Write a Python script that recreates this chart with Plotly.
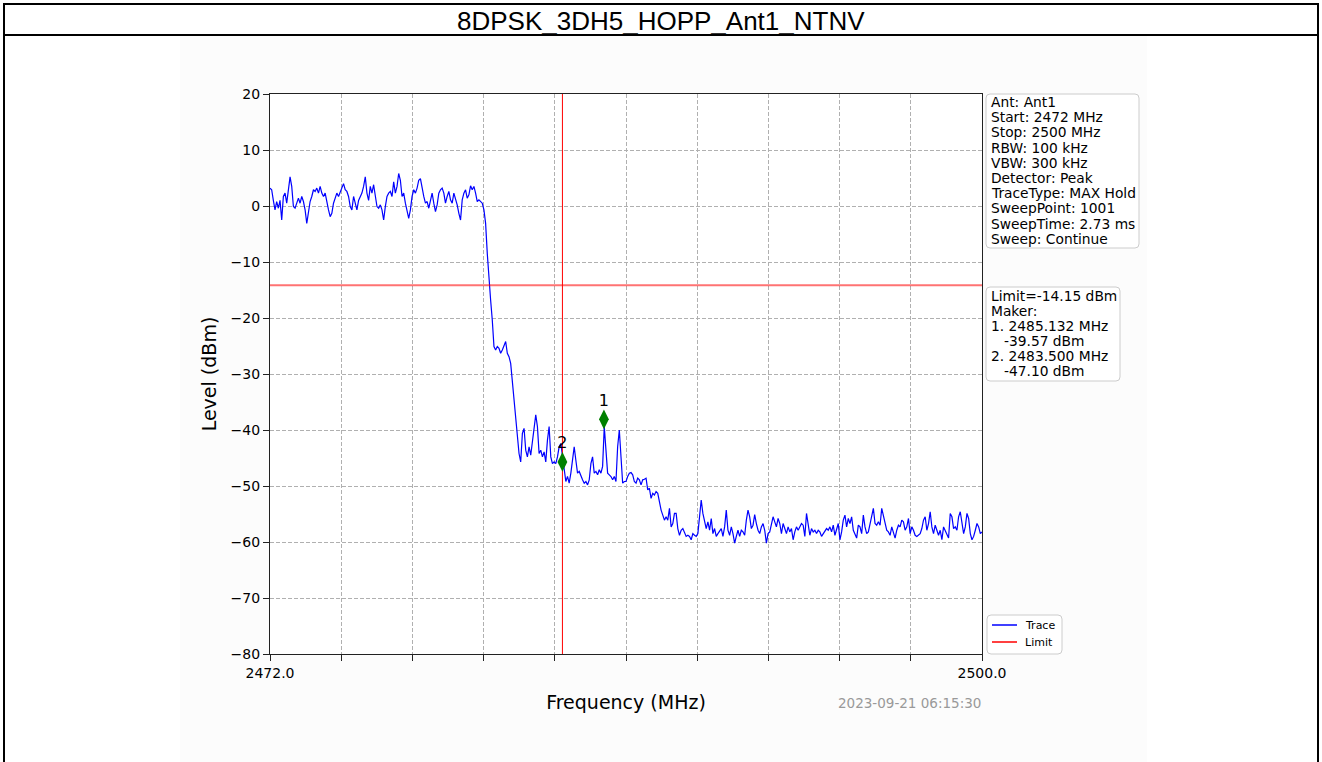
import numpy as np
import plotly.graph_objects as go

# ---------------- data ----------------
title_text = "8DPSK_3DH5_HOPP_Ant1_NTNV"
f_start, f_stop = 2472.0, 2500.0
x_tick_vals = list(np.linspace(f_start, f_stop, 11))
x_tick_labels = ["2472.0", "", "", "", "", "", "", "", "", "", "2500.0"]
y_tick_vals = [-80, -70, -60, -50, -40, -30, -20, -10, 0, 10, 20]
y_tick_labels = ["\u221280", "\u221270", "\u221260", "\u221250", "\u221240", "\u221230",
                 "\u221220", "\u221210", "0", "10", "20"]
limit_dbm = -14.15
vline_freq = 2483.5
marker_freqs = [2485.132, 2483.5]
marker_levels = [-38.1, -45.7]
marker_labels = ["1", "2"]
timestamp = "2023-09-21 06:15:30"
info_lines = ["Ant: Ant1", "Start: 2472 MHz", "Stop: 2500 MHz", "RBW: 100 kHz",
              "VBW: 300 kHz", "Detector: Peak", "TraceType: MAX Hold",
              "SweepPoint: 1001", "SweepTime: 2.73 ms", "Sweep: Continue"]
limit_lines = ["Limit=-14.15 dBm", "Maker:", "1. 2485.132 MHz", "   -39.57 dBm",
               "2. 2483.500 MHz", "   -47.10 dBm"]
legend_names = ["Trace", "Limit"]

# trace levels (dBm) at even frequency steps
levels = [
    3.2, 2.9, 1.0, -0.7, 0.8, -0.4, 1.0, -2.5, 1.7, 2.3,
    0.5, 2.6, 5.2, 3.5, -0.1, -0.4, 0.5, 1.4, 0.5, 1.7,
    0.8, -0.7, -3.1, -0.7, 0.8, 1.7, 2.9, 2.6, 3.2, 2.3,
    3.5, 2.3, 1.7, 2.3, 0.5, -0.7, -1.9, -1.3, 0.5, 1.4,
    2.3, 1.7, 2.6, 3.2, 4.0, 2.9, 2.6, 1.7, -0.1, -0.7,
    1.7, 0.5, -0.7, 1.0, 1.7, 2.3, 3.5, 5.2, 2.3, 1.0,
    3.5, 2.3, 3.8, 1.7, -0.1, -0.4, 0.2, -0.7, -2.5, -0.1,
    1.7, 2.3, 2.6, 1.7, 4.3, 2.3, 3.5, 5.8, 4.6, 1.7,
    2.3, 0.5, -0.7, -2.2, -0.7, 1.7, 2.9, 2.3, 3.2, 4.6,
    4.9, 2.9, 1.7, 0.5, 0.8, -0.4, 1.0, 2.3, 0.5, -1.0,
    0.2, 2.3, 2.9, 3.2, 2.3, 0.5, 1.7, 2.6,
    1.1, 0.5, 2.3, 1.4, 0.2, -1.3, -2.5, 1.1, 2.3, 2.9,
    1.4, 2.0, 3.6, 2.9, 3.5, 2.3, 0.8, 1.1, 0.8, 0.5,
    -0.7, -3.1, -8.5, -13.2, -16.8, -20.4, -25.1, -25.7, -25.1, -25.4,
    -26.3, -25.7, -24.8, -24.2, -26.3, -26.9, -28.1, -31.1, -34.0, -37.0,
    -40.6, -44.2, -45.7, -40.6, -39.7, -43.6, -44.8, -43.0, -44.5, -42.4,
    -39.4, -37.3, -39.4, -44.2, -43.6, -44.8, -43.9, -45.7, -41.8, -39.4,
    -44.8, -46.0, -45.7, -46.0, -44.8, -43.0, -42.4, -44.8, -47.7, -49.2,
    -48.3, -49.5, -47.7, -44.8, -43.0, -45.4, -47.7, -47.4, -48.3, -48.9,
    -49.5, -49.2, -49.8, -48.9, -46.0, -44.8, -47.7, -47.4, -48.0, -47.1,
    -47.7, -46.5, -39.4, -43.0, -47.7, -48.0, -48.3, -48.9, -48.3, -49.2,
    -43.0, -40.0, -45.4, -49.5, -49.2,
    -49.2, -48.3, -47.7, -47.6, -48.0, -49.2, -49.5, -48.6, -48.9, -49.8,
    -48.9, -48.8, -48.6, -50.7, -50.4, -52.2, -51.3, -51.6, -51.0, -51.3,
    -53.1, -54.3, -55.2, -56.1, -55.5, -56.1, -54.0, -57.3, -56.7, -54.9,
    -54.9, -57.6, -58.8, -57.9, -57.6, -58.5, -59.0, -58.8, -59.0, -59.6,
    -58.5, -58.8, -59.0, -58.5, -54.9, -52.5, -54.9, -56.1, -57.6, -56.4,
    -57.9, -55.8, -58.5, -57.6, -59.0, -58.5, -57.9, -57.6, -59.0, -57.3,
    -54.3, -57.9, -58.8, -57.3, -58.5, -60.2, -59.0, -57.9, -59.0, -57.9,
    -58.2, -58.8, -56.1, -54.3, -55.5, -57.6, -57.0, -55.1, -56.7, -57.9,
    -58.5, -57.3, -56.7, -57.9, -60.2, -58.5, -58.2, -56.7, -55.5, -56.4,
    -57.3, -55.8, -56.7, -58.5, -56.7, -57.6, -58.5, -57.3, -58.2, -57.6,
    -59.6, -58.2, -57.3, -57.9, -57.3,
    -56.7, -57.0, -59.0, -54.9, -57.3, -58.8, -57.6, -58.2, -57.9, -58.5,
    -57.9, -58.2, -59.0, -58.5, -57.9, -57.6, -57.9, -57.3, -58.2, -57.0,
    -58.8, -57.9, -56.7, -59.6, -58.2, -56.1, -55.2, -57.3, -55.8, -56.7,
    -55.5, -57.9, -58.8, -59.3, -57.0, -57.3, -58.5, -55.2, -57.3, -58.5,
    -58.2, -56.7, -54.9, -54.0, -56.7, -57.0, -56.4, -57.0, -54.0, -55.5,
    -56.4, -57.9, -58.2, -58.8, -57.3, -58.5, -59.3, -57.9, -57.0, -57.3,
    -56.1, -56.4, -57.9, -57.3, -55.8, -58.5, -57.3, -57.9, -58.8, -59.0,
    -58.8, -58.5, -57.6, -56.1, -55.5, -57.9, -56.7, -54.6, -57.3, -58.5,
    -57.0, -57.9, -58.8, -57.9, -59.6, -57.3, -57.9, -58.5, -59.3, -54.9,
    -55.5, -57.6, -57.3, -57.9, -55.5, -54.6, -56.7, -58.5, -57.3, -54.9,
    -55.8, -58.5, -59.6, -59.0, -57.9, -56.7, -57.3, -58.5, -58.2,
]
freqs = np.linspace(f_start, f_stop, len(levels))

# ---------------- layout helpers (pixel -> paper) ----------------
W, H = 1322, 762
L, R, T, B = 270, 982, 94, 654


def px(x):
    return (x - L) / (R - L)


def py(y):
    return (B - y) / (B - T)


def rbox(x0, y0, x1, y1, r=4):
    pts = [("M", x0 + r, y0), ("L", x1 - r, y0), ("Q", x1, y0, x1, y0 + r),
           ("L", x1, y1 - r), ("Q", x1, y1, x1 - r, y1), ("L", x0 + r, y1),
           ("Q", x0, y1, x0, y1 - r), ("L", x0, y0 + r), ("Q", x0, y0, x0 + r, y0)]
    s = ""
    for p in pts:
        if p[0] == "Q":
            s += f"Q{px(p[1])},{py(p[2])} {px(p[3])},{py(p[4])} "
        else:
            s += f"{p[0]}{px(p[1])},{py(p[2])} "
    return s + "Z"


FONT = "DejaVu Sans"

fig = go.Figure()
fig.add_trace(go.Scatter(x=freqs, y=levels, mode="lines", name=legend_names[0],
                         line=dict(color="#0000ff", width=1.2), showlegend=False))
fig.add_trace(go.Scatter(x=[f_start, f_stop], y=[limit_dbm, limit_dbm], mode="lines",
                         name=legend_names[1], line=dict(color="rgba(255,0,0,0.55)", width=1.8),
                         showlegend=False))
fig.add_trace(go.Scatter(x=[vline_freq, vline_freq], y=[y_tick_vals[0], y_tick_vals[-1]],
                         mode="lines", line=dict(color="#ff0000", width=1), showlegend=False))
fig.add_trace(go.Scatter(x=marker_freqs, y=marker_levels, mode="markers+text",
                         text=marker_labels, textposition="top center",
                         textfont=dict(family=FONT, size=16, color="black"),
                         marker=dict(symbol="diamond-tall", size=14, color="#008000"),
                         showlegend=False))

shapes = []
# title band line + outer border
shapes.append(dict(type="line", xref="paper", yref="paper", x0=px(4), x1=px(1318),
                   y0=py(35), y1=py(35), line=dict(color="black", width=2), layer="below"))
shapes.append(dict(type="rect", xref="paper", yref="paper", x0=px(4), x1=px(1318),
                   y0=py(775), y1=py(4), line=dict(color="black", width=2), layer="below"))
# embedded figure background
shapes.append(dict(type="rect", xref="paper", yref="paper", x0=px(180), x1=px(1147),
                   y0=py(770), y1=py(36), fillcolor="#fcfcfc", line=dict(width=0), layer="below"))
# axes face
shapes.append(dict(type="rect", xref="paper", yref="paper", x0=0, x1=1, y0=0, y1=1,
                   fillcolor="white", line=dict(width=0), layer="below"))
# info boxes
for (x0, y0, x1, y1) in [(986, 94, 1139, 248), (986, 287, 1120, 381), (987, 615, 1062, 654)]:
    shapes.append(dict(type="path", xref="paper", yref="paper", path=rbox(x0, y0, x1, y1),
                       fillcolor="rgba(255,255,255,0.9)", line=dict(color="#cccccc", width=1)))
# legend samples
shapes.append(dict(type="line", xref="paper", yref="paper", x0=px(992), x1=px(1017),
                   y0=py(625), y1=py(625), line=dict(color="#0000ff", width=1.5)))
shapes.append(dict(type="line", xref="paper", yref="paper", x0=px(992), x1=px(1017),
                   y0=py(642), y1=py(642), line=dict(color="#ff0000", width=1.5)))

ann = []
ann.append(dict(text=title_text, xref="paper", yref="paper", x=px(661), y=py(21),
                xanchor="center", yanchor="middle", showarrow=False,
                font=dict(family="Liberation Sans", size=26, color="black")))
ann.append(dict(text=timestamp, xref="paper", yref="paper", x=px(983), y=py(703),
                xanchor="right", yanchor="middle", showarrow=False,
                font=dict(family=FONT, size=13.5, color="#999999")))
for i, t in enumerate(info_lines):
    ann.append(dict(text=t, xref="paper", yref="paper", x=px(989), y=py(102 + 15.2 * i),
                    xanchor="left", yanchor="middle", showarrow=False,
                    font=dict(family=FONT, size=13.8, color="black")))
for i, t in enumerate(limit_lines):
    indent = len(t) - len(t.lstrip(" "))
    ann.append(dict(text=t.strip(), xref="paper", yref="paper",
                    x=px(989 + 4.3 * indent), y=py(296 + 15 * i),
                    xanchor="left", yanchor="middle", showarrow=False,
                    font=dict(family=FONT, size=13.8, color="black")))
for i, t in enumerate(legend_names):
    ann.append(dict(text=t, xref="paper", yref="paper", x=px(1023), y=py(625 + 17 * i),
                    xanchor="left", yanchor="middle", showarrow=False,
                    font=dict(family=FONT, size=11, color="black")))

axis_common = dict(showline=True, linecolor="#222222", linewidth=1.2, mirror=True,
                   showgrid=True, gridcolor="#b0b0b0", gridwidth=0.8, griddash="4px,2px",
                   zeroline=False, ticks="outside", ticklen=6, tickwidth=1,
                   tickcolor="#222222", tickfont=dict(family=FONT, size=14, color="black"))

fig.update_layout(
    width=W, height=H, autosize=False,
    margin=dict(l=L, r=W - R, t=T, b=H - B, pad=0),
    paper_bgcolor="white", plot_bgcolor="rgba(0,0,0,0)",
    showlegend=False,
    shapes=shapes, annotations=ann,
    xaxis=dict(range=[f_start, f_stop], tickvals=x_tick_vals, ticktext=x_tick_labels,
               title=dict(text="Frequency (MHz)", font=dict(family=FONT, size=19, color="black"),
                          standoff=15),
               **axis_common),
    yaxis=dict(range=[y_tick_vals[0], y_tick_vals[-1]], tickvals=y_tick_vals, ticktext=y_tick_labels,
               title=dict(text="Level (dBm)", font=dict(family=FONT, size=19, color="black"),
                          standoff=8),
               **axis_common),
)

fig.write_html("out.html", config={"displayModeBar": False},
               post_script="document.body.style.margin='0';document.body.style.overflow='hidden';")
